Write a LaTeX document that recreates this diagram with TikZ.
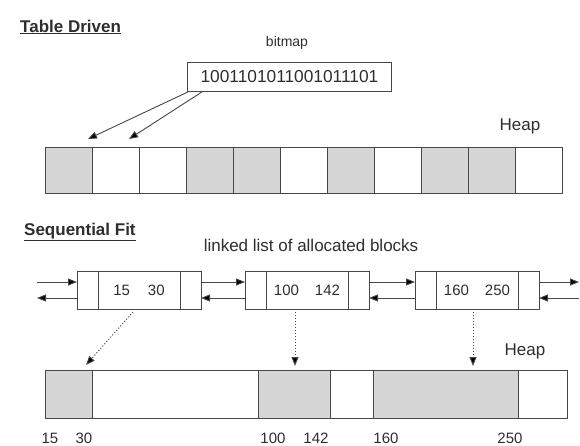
\documentclass[tikz,border=0pt]{standalone}
\usepackage{fontspec}
\setmainfont{Liberation Sans}
\usetikzlibrary{arrows.meta}
\definecolor{shade}{gray}{0.84}
\definecolor{ln}{gray}{0.28}
\definecolor{txt}{gray}{0.18}
\begin{document}
\begin{tikzpicture}[x=1pt,y=-1pt,
  cell/.style={draw=ln,line width=0.9pt,minimum height=46pt,inner sep=0pt,outer sep=0pt,anchor=north west},
  box/.style={draw=ln,line width=0.9pt,minimum height=38pt,inner sep=0pt,outer sep=0pt,anchor=north west},
  lbl/.style={text=txt,inner sep=0pt,font=\fontsize{17pt}{19pt}\selectfont},
  num/.style={text=txt,inner sep=0pt,font=\fontsize{15pt}{17pt}\selectfont},
  ttl/.style={text=txt,inner sep=0pt,anchor=west,font=\fontsize{17pt}{19pt}\selectfont\bfseries},
  arr/.style={draw=ln,line width=0.9pt,-{Triangle[length=9pt,width=7pt,fill=black]}},
  dotarr/.style={draw=ln,line width=1pt,dotted,-{Triangle[length=9pt,width=7pt,fill=black]}}
]
\useasboundingbox[fill=white] (0,0) rectangle (580,446);

% ---------- Table driven ----------
\node[ttl] (t1) at (20,27) {\underline{Table Driven}};
\node[lbl,font=\fontsize{14pt}{16pt}\selectfont] (bml) at (287,43) {bitmap};
\node[draw=ln,line width=0.9pt,minimum width=204pt,minimum height=29pt,inner sep=0pt,anchor=north west,text=txt,font=\fontsize{17.3pt}{19pt}\selectfont] (bm) at (187,62) {1001101011001011101};

\foreach \i/\f in {0/shade,1/white,2/white,3/shade,4/shade,5/white,6/shade,7/white,8/shade,9/shade,10/white}{
  \node[cell,fill=\f,minimum width=47pt] (h\i) at ({45+47*\i},147) {};
}
\node[lbl] (heap1) at (520,126) {Heap};

\coordinate (p1) at (88,139);
\coordinate (p2) at (129,139);
\draw[arr] ([xshift=1pt]bm.south west) -- (p1);
\draw[arr] ([xshift=15pt]bm.south west) -- (p2);

% ---------- Sequential fit ----------
\node[ttl] (t2) at (24,232) {\underline{Sequential Fit}};
\node[lbl] (lla) at (311,245) {linked list of allocated blocks};

% list nodes
\node[box,minimum width=21pt] (l1) at (77,271) {};
\node[box,minimum width=82pt,num] (c1) at (98,271) {15\hspace{18pt}30};
\node[box,minimum width=21pt] (r1) at (180,271) {};

\node[box,minimum width=21pt] (l2) at (245,271) {};
\node[box,minimum width=82pt,num] (c2) at (266,271) {100\hspace{16pt}142};
\node[box,minimum width=21pt] (r2) at (348,271) {};

\node[box,minimum width=21pt] (l3) at (415,271) {};
\node[box,minimum width=82pt,num] (c3) at (436,271) {160\hspace{16pt}250};
\node[box,minimum width=21pt] (r3) at (518,271) {};

\coordinate (inL) at (37,282);
\coordinate (outL) at (37,298);
\coordinate (outR) at (579,282);
\coordinate (inR) at (579,298);

\draw[arr] (inL) -- ([yshift=8pt]l1.west);
\draw[arr] ([yshift=-8pt]l1.west) -- (outL);
\draw[arr] ([yshift=8pt]r1.east) -- ([yshift=8pt]l2.west);
\draw[arr] ([yshift=-8pt]l2.west) -- ([yshift=-8pt]r1.east);
\draw[arr] ([yshift=8pt]r2.east) -- ([yshift=8pt]l3.west);
\draw[arr] ([yshift=-8pt]l3.west) -- ([yshift=-8pt]r2.east);
\draw[arr] ([yshift=8pt]r3.east) -- (outR);
\draw[arr] (inR) -- ([yshift=-8pt]r3.east);

% lower heap
\node[cell,fill=shade,minimum width=47pt,minimum height=48pt] (b1) at (45,370) {};
\node[cell,fill=white,minimum width=166pt,minimum height=48pt] (b2) at (92,370) {};
\node[cell,fill=shade,minimum width=72pt,minimum height=48pt] (b3) at (258,370) {};
\node[cell,fill=white,minimum width=43pt,minimum height=48pt] (b4) at (330,370) {};
\node[cell,fill=shade,minimum width=145pt,minimum height=48pt] (b5) at (373,370) {};
\node[cell,fill=white,minimum width=49pt,minimum height=48pt] (b6) at (518,370) {};
\node[lbl] (heap2) at (525,351) {Heap};

\coordinate (d1) at (86,365);
\coordinate (d2) at (295,366);
\coordinate (d3) at (473,366);
\draw[dotarr] ([xshift=-6pt,yshift=-3pt]c1.south) -- (d1);
\draw[dotarr] ([xshift=-12pt,yshift=-3pt]c2.south) -- (d2);
\draw[dotarr] ([xshift=-4pt,yshift=-3pt]c3.south) -- (d3);

% address labels
\node[num] (a15) at (50,438) {15};
\node[num] (a30) at (84,438) {30};
\node[num] (a100) at (273,438) {100};
\node[num] (a142) at (316,438) {142};
\node[num] (a160) at (386,438) {160};
\node[num] (a250) at (510,438) {250};
\end{tikzpicture}
\end{document}
